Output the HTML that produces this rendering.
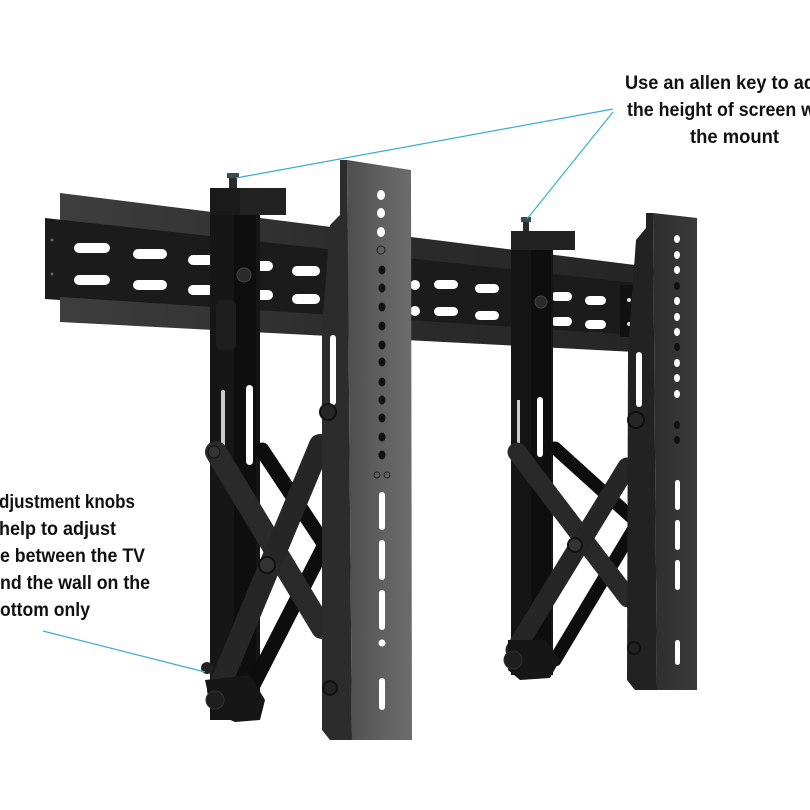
<!DOCTYPE html>
<html><head><meta charset="utf-8"><style>
html,body{margin:0;padding:0;background:#fff;}
svg{display:block;}
text{font-family:"Liberation Sans",sans-serif;font-weight:bold;fill:#111;font-size:19px;}
</style></head><body>
<svg width="810" height="810" viewBox="0 0 810 810" xmlns="http://www.w3.org/2000/svg">
<defs>
<linearGradient id="lip" x1="0" y1="0" x2="1" y2="0">
<stop offset="0" stop-color="#3e3e3e"/><stop offset="0.5" stop-color="#2c2c2c"/><stop offset="1" stop-color="#262626"/></linearGradient>
<linearGradient id="front" x1="0" y1="0" x2="1" y2="0">
<stop offset="0" stop-color="#4e4e4e"/><stop offset="0.6" stop-color="#626262"/><stop offset="1" stop-color="#6c6c6c"/></linearGradient>
<linearGradient id="front2" x1="0" y1="0" x2="1" y2="0">
<stop offset="0" stop-color="#2e2e2e"/><stop offset="1" stop-color="#3a3a3a"/></linearGradient>
</defs>

<!-- Rail -->
<polygon points="60,193 635,265 635,286 60,222" fill="url(#lip)"/>
<polygon points="45,218 635,283 635,338 45,299" fill="#1b1b1b"/>
<polygon points="60,297 635,335 635,352 60,322" fill="url(#lip)"/>
<rect x="620" y="285" width="15" height="52" fill="#111"/>
<circle cx="52" cy="240" r="1.5" fill="#666"/><circle cx="52" cy="274" r="1.5" fill="#666"/>
<circle cx="629" cy="300" r="2" fill="#ddd"/><circle cx="629" cy="324" r="2" fill="#ddd"/>
<g fill="#fff">
<rect x="74" y="243" width="36" height="10" rx="5"/><rect x="74" y="275" width="36" height="10" rx="5"/>
<rect x="133" y="249" width="34" height="10" rx="5"/><rect x="133" y="280" width="34" height="10" rx="5"/>
<rect x="188" y="255" width="32" height="10" rx="5"/><rect x="188" y="285" width="32" height="10" rx="5"/>
<rect x="243" y="261" width="30" height="10" rx="5"/><rect x="243" y="290" width="30" height="10" rx="5"/>
<rect x="292" y="266" width="28" height="10" rx="5"/><rect x="292" y="294" width="28" height="10" rx="5"/>
<rect x="410" y="280" width="10" height="10" rx="5"/><rect x="410" y="306" width="10" height="10" rx="5"/>
<rect x="434" y="280" width="24" height="9" rx="4.5"/><rect x="434" y="307" width="24" height="9" rx="4.5"/>
<rect x="475" y="284" width="24" height="9" rx="4.5"/><rect x="475" y="311" width="24" height="9" rx="4.5"/>
<rect x="551" y="292" width="21" height="9" rx="4.5"/><rect x="551" y="317" width="21" height="9" rx="4.5"/>
<rect x="585" y="296" width="21" height="9" rx="4.5"/><rect x="585" y="320" width="21" height="9" rx="4.5"/>
</g>

<!-- Left back column & scissors -->
<rect x="210" y="215" width="50" height="505" fill="#161616"/>
<rect x="234" y="215" width="22" height="480" fill="#0e0e0e"/>
<rect x="246" y="385" width="7" height="80" rx="3.5" fill="#fff"/>
<rect x="221" y="390" width="4" height="60" rx="2" fill="#ccc"/>
<rect x="216" y="300" width="20" height="50" rx="6" fill="#1e1e1e"/>
<rect x="210" y="188" width="76" height="27" fill="#222"/>
<rect x="210" y="188" width="30" height="27" fill="#1a1a1a"/>
<rect x="229" y="174" width="8" height="14" fill="#2a2a2a"/><rect x="227" y="173" width="12" height="5" fill="#3a4a50"/>
<circle cx="244" cy="275" r="7" fill="#2a2a2a" stroke="#444"/>
<g stroke-linecap="round">
<line x1="262" y1="450" x2="325" y2="545" stroke="#0d0d0d" stroke-width="15"/>
<line x1="335" y1="525" x2="248" y2="695" stroke="#0d0d0d" stroke-width="15"/>
<line x1="216" y1="452" x2="322" y2="628" stroke="#2a2a2a" stroke-width="22"/>
<line x1="320" y1="445" x2="218" y2="690" stroke="#262626" stroke-width="22"/>
</g>
<circle cx="267" cy="565" r="8" fill="#333" stroke="#111" stroke-width="2"/>
<circle cx="214" cy="452" r="6" fill="#333" stroke="#111"/>
<path d="M205,680 L250,675 L265,700 L260,720 L235,722 L212,712 Z" fill="#161616"/>
<circle cx="207" cy="668" r="6" fill="#222"/>
<circle cx="215" cy="700" r="9" fill="#1e1e1e" stroke="#333"/>

<!-- Left vertical bar -->
<polygon points="340,160 347,160 352,740 330,740 322,730 322,330 330,225 340,215" fill="#2c2c2c"/>
<polygon points="347,160 411,170 412,740 352,740" fill="url(#front)"/>
<rect x="330" y="335" width="6" height="70" rx="3" fill="#fff"/>
<circle cx="328" cy="412" r="8" fill="#262626" stroke="#111" stroke-width="2"/>
<circle cx="330" cy="688" r="7" fill="#222" stroke="#111" stroke-width="2"/>
<g fill="#fff">
<ellipse cx="381" cy="195" rx="4" ry="5"/><ellipse cx="381" cy="213" rx="4" ry="5"/><ellipse cx="381" cy="232" rx="4" ry="5"/>
</g>
<circle cx="381" cy="250" r="4" fill="none" stroke="#222"/>
<g fill="#111">
<ellipse cx="382" cy="270" rx="3.5" ry="4.5"/><ellipse cx="382" cy="288" rx="3.5" ry="4.5"/><ellipse cx="382" cy="307" rx="3.5" ry="4.5"/><ellipse cx="382" cy="326" rx="3.5" ry="4.5"/><ellipse cx="382" cy="345" rx="3.5" ry="4.5"/><ellipse cx="382" cy="362" rx="3.5" ry="4.5"/><ellipse cx="382" cy="382" rx="3.5" ry="4.5"/><ellipse cx="382" cy="400" rx="3.5" ry="4.5"/><ellipse cx="382" cy="418" rx="3.5" ry="4.5"/><ellipse cx="382" cy="437" rx="3.5" ry="4.5"/><ellipse cx="382" cy="455" rx="3.5" ry="4.5"/>
</g>
<g fill="#fff">
<rect x="379" y="492" width="6" height="38" rx="3"/><rect x="379" y="540" width="6" height="40" rx="3"/><rect x="379" y="590" width="6" height="40" rx="3"/>
<circle cx="382" cy="643" r="3.5"/><rect x="379" y="678" width="6" height="32" rx="3"/>
</g>
<circle cx="377" cy="475" r="3" fill="none" stroke="#222"/><circle cx="387" cy="475" r="3" fill="none" stroke="#222"/>

<!-- Right back column & scissors -->
<rect x="511" y="250" width="42" height="425" fill="#151515"/>
<rect x="531" y="250" width="20" height="410" fill="#0e0e0e"/>
<rect x="537" y="397" width="6" height="60" rx="3" fill="#fff"/>
<rect x="517" y="400" width="3" height="45" fill="#ccc"/>
<rect x="511" y="231" width="64" height="19" fill="#222"/>
<rect x="523" y="218" width="6" height="13" fill="#2a2a2a"/><rect x="521" y="217" width="10" height="5" fill="#3a4a50"/>
<circle cx="541" cy="302" r="6" fill="#2a2a2a" stroke="#444"/>
<g stroke-linecap="round">
<line x1="555" y1="448" x2="640" y2="525" stroke="#0d0d0d" stroke-width="13"/>
<line x1="645" y1="510" x2="555" y2="660" stroke="#0d0d0d" stroke-width="13"/>
<line x1="517" y1="452" x2="628" y2="598" stroke="#292929" stroke-width="19"/>
<line x1="627" y1="467" x2="515" y2="650" stroke="#262626" stroke-width="19"/>
</g>
<circle cx="575" cy="545" r="7" fill="#333" stroke="#111" stroke-width="2"/>
<path d="M508,640 L545,640 L560,660 L550,678 L520,680 L508,670 Z" fill="#161616"/>
<circle cx="513" cy="660" r="9" fill="#1e1e1e" stroke="#333"/>

<!-- Right vertical bar -->
<polygon points="646,213 653,213 657,690 635,690 627,680 628,350 636,240 646,228" fill="#222"/>
<polygon points="653,213 697,218 697,690 657,690" fill="url(#front2)"/>
<rect x="636" y="352" width="6" height="55" rx="3" fill="#fff"/>
<circle cx="636" cy="420" r="8" fill="#262626" stroke="#111" stroke-width="2"/>
<circle cx="634" cy="648" r="6" fill="#222" stroke="#111" stroke-width="2"/>
<g fill="#fff">
<ellipse cx="677" cy="239" rx="3" ry="4"/><ellipse cx="677" cy="255" rx="3" ry="4"/><ellipse cx="677" cy="270" rx="3" ry="4"/>
<ellipse cx="677" cy="301" rx="3" ry="4"/><ellipse cx="677" cy="317" rx="3" ry="4"/><ellipse cx="677" cy="332" rx="3" ry="4"/><ellipse cx="677" cy="363" rx="3" ry="4"/><ellipse cx="677" cy="378" rx="3" ry="4"/><ellipse cx="677" cy="394" rx="3" ry="4"/>
<rect x="675" y="480" width="5" height="30" rx="2.5"/><rect x="675" y="520" width="5" height="30" rx="2.5"/><rect x="675" y="560" width="5" height="30" rx="2.5"/><rect x="675" y="640" width="5" height="25" rx="2.5"/>
</g>
<g fill="#111"><ellipse cx="677" cy="286" rx="3" ry="4"/><ellipse cx="677" cy="347" rx="3" ry="4"/><ellipse cx="677" cy="425" rx="3" ry="4"/><ellipse cx="677" cy="440" rx="3" ry="4"/></g>

<!-- Leader lines -->
<g stroke="#3aaed0" stroke-width="1.2" fill="none">
<line x1="613" y1="109" x2="236" y2="178"/>
<line x1="613" y1="112" x2="527" y2="219"/>
<line x1="43" y1="631" x2="205" y2="672"/>
</g>

<!-- Text -->
<text x="625" y="89" textLength="190" lengthAdjust="spacingAndGlyphs">Use an allen key to ad</text>
<text x="627" y="116" textLength="188" lengthAdjust="spacingAndGlyphs">the height of screen w</text>
<text x="690" y="143" textLength="89" lengthAdjust="spacingAndGlyphs">the mount</text>

<text x="-1" y="508" textLength="136" lengthAdjust="spacingAndGlyphs">djustment knobs</text>
<text x="-1" y="535" textLength="117" lengthAdjust="spacingAndGlyphs">help to adjust</text>
<text x="0" y="562" textLength="145" lengthAdjust="spacingAndGlyphs">e between the TV</text>
<text x="0" y="589" textLength="150" lengthAdjust="spacingAndGlyphs">nd the wall on the</text>
<text x="0" y="616" textLength="90" lengthAdjust="spacingAndGlyphs">ottom only</text>
</svg>
</body></html>
